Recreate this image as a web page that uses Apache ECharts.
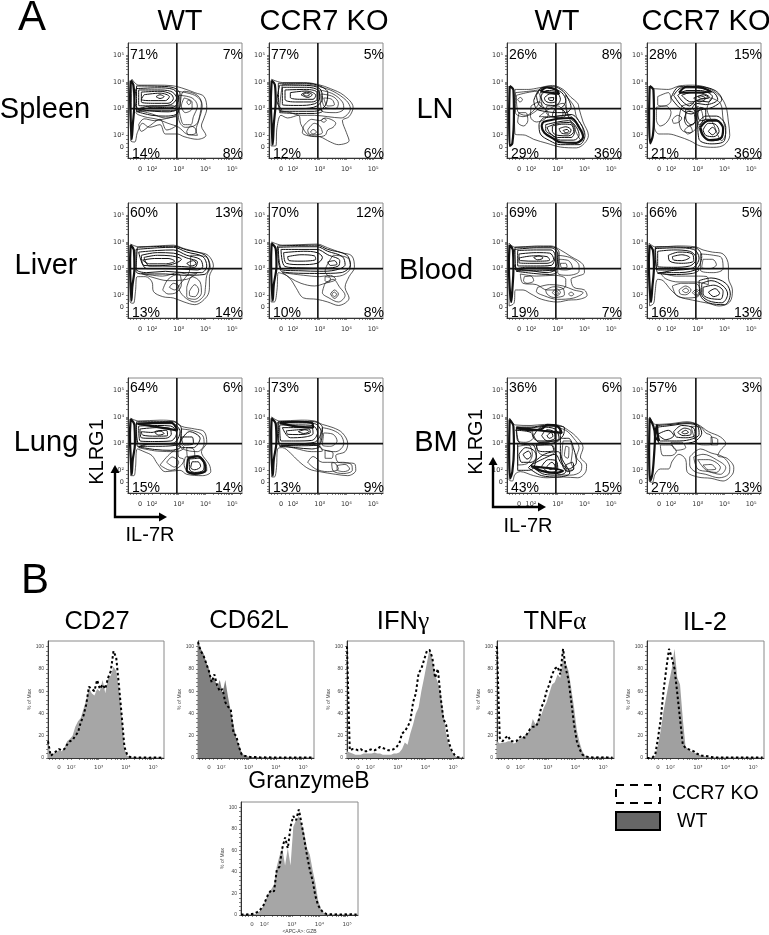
<!DOCTYPE html>
<html><head><meta charset="utf-8">
<style>html,body{margin:0;padding:0;background:#fff}#c{width:769px;height:935px}</style>
<script src="https://cdn.jsdelivr.net/npm/echarts@6/dist/echarts.min.js"></script>
</head><body><div id="c"></div>
<script>
// ---------- tick labels ----------
const flowTicks=[1.55,2,3,4,5];
const flowTickLabels=['0','10²','10³','10⁴','10⁵'];
const flowMinorTicks=[1.2,1.3,1.4,1.55,1.7,1.85,2,2.3,2.48,2.6,2.7,2.78,2.85,2.9,2.95,3,3.3,3.48,3.6,3.7,3.78,3.85,3.9,3.95,4,4.3,4.48,4.6,4.7,4.78,4.85,4.9,4.95,5,5.3];
const pctTicks=[0,20,40,60,80,100];
const pctMinorTicks=[0,4,8,12,16,20,24,28,32,36,40,44,48,52,56,60,64,68,72,76,80,84,88,92,96,100];
const quadrantX=2.93, quadrantY=3;

// ---------- quadrant percentages (UL, UR, LL, LR) ----------
const spleenWtPct=['71%','7%','14%','8%'], spleenKoPct=['77%','5%','12%','6%'];
const lnWtPct=['26%','8%','29%','36%'], lnKoPct=['28%','15%','21%','36%'];
const liverWtPct=['60%','13%','13%','14%'], liverKoPct=['70%','12%','10%','8%'];
const bloodWtPct=['69%','5%','19%','7%'], bloodKoPct=['66%','5%','16%','13%'];
const lungWtPct=['64%','6%','15%','14%'], lungKoPct=['73%','5%','13%','9%'];
const bmWtPct=['36%','6%','43%','15%'], bmKoPct=['57%','3%','27%','13%'];

// ---------- contour rings: flat x,y pairs in log10 units ----------
const spleenWtThin=[
[1.25,4.1,1.5,3.88,2.2,3.88,2.75,3.86,3.1,3.78,3.6,3.6,3.95,3.45,4.05,3,3.95,2.65,3.85,2.35,4.02,2,3.7,1.85,3.2,1.95,2.95,2.05,2.5,2.05,2.3,2.4,1.9,2.3,1.65,2.45,1.45,2.1,1.35,1.75,1.2,1.8],
[1.45,2.95,2,2.8,2.5,2.65,2.95,2.8,3.2,3.65,3.7,3.5,3.88,3.1,3.75,2.55,3.65,2.2,3.7,2,3.3,2.05,3,2.3,2.6,2.45,2.2,2.6,1.7,2.7,1.4,2.85],
[3,3.5,3.5,3.4,3.7,3.1,3.55,2.7,3.45,2.4,3.2,2.4,3.05,2.75,3,3.1],
[3.3,2.15,3.45,2.35,3.65,2.2,3.6,2.05,3.35,2.02],
[3.3,3.25,3.38,3.33,3.45,3.22,3.37,3.15],
[1.5,2.4,1.7,2.62,2.1,2.55,2.4,2.6,2.9,2.7,2.95,2.45,2.55,2.2,2.3,2.6,1.9,2.35,1.6,2.15],
[3.2,3.4,3.5,3.25,3.5,3,3.25,2.85,3.1,3.1],
[2.95,3.65,3.6,3.5,3.85,3.2,3.8,2.8,3.65,2.4,3.25,2.3,3,2.6]];
const spleenWtDense=[
[1.4,3.75,2.2,3.78,2.8,3.72,3,3.4,2.8,3.05,2.2,3,1.5,3,1.35,3.3],
[1.5,3.7,2.2,3.7,2.7,3.65,2.92,3.4,2.7,3.15,2.2,3.1,1.5,3.12],
[1.6,3.62,2.3,3.65,2.7,3.55,2.8,3.38,2.6,3.2,2.1,3.2,1.6,3.25],
[1.7,3.52,2.3,3.58,2.65,3.45,2.5,3.3,2,3.3,1.6,3.35],
[2.15,3.45,2.3,3.52,2.45,3.45,2.3,3.38],
[1.45,2.98,2.1,2.9,2.6,2.88,2.95,2.98,2.8,3.1,2,3.1],
[1.42,3.85,2.2,3.84,2.75,3.8,3.05,3.55,3.05,3.1,2.7,2.92,2,2.92,1.42,2.9],
[1.45,2.88,2,2.75,2.5,2.72,2.9,2.78,3,2.95,2,3.05]];
const spleenWtHeavy=[[1.2,4.05,1.3,3.9,1.34,3.2,1.28,2.4,1.24,1.85,1.2,2.6,1.18,3.4]];

const spleenKoThin=[
[1.2,4.1,1.6,3.98,2.4,3.98,2.95,3.9,3.4,3.75,3.9,3.5,4.25,3.05,4.1,2.7,3.85,2.55,4,2.1,4.1,1.8,3.7,1.65,3.4,1.75,3,1.95,2.6,2,2.3,2.4,2.2,2.75,1.8,2.65,1.55,2.75,1.4,2.3,1.35,1.6,1.18,1.6],
[1.6,3.9,2.5,3.92,3,3.82,3.5,3.65,4,3.3,4.15,3,3.8,2.65,3.3,2.7,2.8,2.75,2.3,2.75,1.9,2.85,1.5,3],
[2.4,2.35,2.7,2.6,3,2.55,3.2,2.65,3.6,2.45,3.5,2.3,3.3,2.2,3.2,2,2.9,1.95,2.5,2,2.35,2.1],
[2.55,2.2,2.8,2.45,3,2.35,3.1,2.1,2.8,2.02,2.6,2.05],
[2.65,2.12,2.75,2.22,2.88,2.12,2.75,2.05],
[3.05,2.55,3.15,2.63,3.25,2.57,3.15,2.49],
[3,3.7,3.5,3.55,3.85,3.25,3.9,3,3.6,2.85,3.1,2.9],
[3.05,3.55,3.5,3.45,3.7,3.2,3.6,3,3.2,3.05],
[3.15,3.4,3.45,3.35,3.55,3.15,3.3,3.1]];
const spleenKoDense=[
[1.5,3.88,2.5,3.87,3,3.75,3.1,3.4,2.9,3.1,2.3,3,1.6,3,1.4,3.3],
[1.6,3.8,2.5,3.8,2.95,3.68,3,3.4,2.8,3.18,2.2,3.12,1.6,3.15],
[1.7,3.7,2.5,3.72,2.9,3.6,2.9,3.35,2.7,3.25,2.1,3.25,1.7,3.35],
[1.9,3.6,2.5,3.66,2.85,3.5,2.75,3.35,2.3,3.35,1.9,3.42],
[2.3,3.52,2.5,3.62,2.72,3.52,2.55,3.42],
[2.38,3.53,2.5,3.58,2.62,3.52,2.5,3.47],
[1.45,3.95,2.5,3.95,3,3.85,3.3,3.6,3.2,3.1,2.8,2.9,2.2,2.9,1.5,2.9],
[1.5,2.85,2.2,2.82,2.8,2.82,3.1,2.9,2.9,3,2.2,3,1.6,3]];
const spleenKoHeavy=[[1.2,4.05,1.32,3.9,1.35,3.3,1.28,2.4,1.24,1.65,1.2,2.4,1.17,3.3]];

const lnWtThin=[
[1.4,3.72,1.9,3.72,2.3,3.78,2.8,3.87,3.2,3.72,3.5,3.42,3.75,3.2,3.8,3,3.95,2.5,4.15,2,4,1.7,3.7,1.53,3.1,1.56,2.6,1.7,2.1,1.85,1.8,2,1.4,2.05,1.38,3],
[1.45,3.5,1.85,3.6,2.2,3.65,2.35,3.4,2.2,3.05,1.8,2.75,1.5,2.9],
[1.55,2.85,1.8,2.85,1.88,2.55,1.72,2.35,1.5,2.5],
[1.5,3.35,1.6,3.42,1.68,3.33,1.58,3.25],
[2,3.1,2.3,3.25,2.5,3,2.65,2.8,2.5,2.6,2.2,2.5,1.98,2.7],
[2.6,3.1,3,3.1,3.2,2.85,3.1,2.65,2.75,2.7,2.55,2.9],
[3.3,3.5,3.6,3.1,3.7,2.7,3.95,2.2,3.9,1.8,3.6,2.3,3.35,2.9],
[2.3,2.7,2.7,3,3.2,3.2,3.4,2.7,3.75,2.4,3.85,2.2,3.4,2.75,2.7,2.7],
[1.42,3.6,2,3.66,2.3,3.7,2.4,3.2,2.1,2.85,1.7,2.7,1.42,2.85]];
const lnWtDense=[
[2.2,3.5,2.45,3.8,2.8,3.75,3.15,3.6,3.3,3.3,3.05,3,2.6,3,2.3,3.15],
[2.35,3.45,2.6,3.68,2.95,3.62,3.1,3.35,2.9,3.12,2.55,3.15],
[2.5,3.4,2.7,3.55,2.95,3.5,2.95,3.3,2.75,3.22,2.55,3.28],
[2.65,3.4,2.85,3.42,2.82,3.3,2.68,3.32],
[2.55,2.4,3,2.5,3.4,2.55,3.7,2.3,3.8,2,3.6,1.82,3.1,1.82,2.8,2,2.55,2.2],
[2.8,2.35,3.2,2.42,3.5,2.4,3.6,2.15,3.4,1.98,3,2,2.8,2.15],
[3.05,2.25,3.3,2.32,3.5,2.2,3.4,2.05,3.15,2.08],
[3.2,2.18,3.35,2.22,3.42,2.14,3.3,2.1],
[2.1,3.3,2.35,3.75,2.85,3.82,3.2,3.65,3.4,3.35,3.5,3.05,3.3,2.85,3,2.85,2.5,2.9,2.2,3],
[2.45,2.65,3,2.72,3.5,2.78,3.85,2.45,4.02,2,3.8,1.65,3.1,1.65,2.7,1.8,2.35,2.05,2.3,2.4],
[2.6,2.3,3,2.45,3.45,2.48,3.65,2.25,3.5,1.92,3,1.92,2.7,2.1],
[2.9,3,3.2,2.95,3.3,2.75,3.05,2.65,2.8,2.75]];
const lnWtHeavy=[
[1.2,3.85,1.34,3.7,1.36,2.8,1.3,1.7,1.2,1.6,1.18,2.8],
[2.45,2.5,3,2.62,3.5,2.65,3.8,2.3,3.95,1.95,3.7,1.72,3.1,1.74,2.8,1.9,2.5,2.1,2.4,2.35],
[2.35,3.65,2.6,3.8,2.95,3.7,3.05,3.55]];

const lnKoThin=[
[1.35,3.75,1.9,3.72,2.3,3.85,2.8,3.88,3.3,3.8,3.8,3.5,4.05,3.1,4.15,2.5,4.2,2,4,1.65,3.6,1.55,3.1,1.6,2.7,1.8,2.3,1.95,1.9,2.05,1.55,2.05,1.38,2.3],
[1.45,3.05,1.8,3.1,2,2.85,1.85,2.5,1.6,2.35,1.45,2.6],
[2.05,2.6,2.25,2.75,2.4,2.65,2.3,2.5,2.1,2.45],
[1.5,3.45,1.9,3.6,2,3.3,1.75,3.1,1.5,3.15],
[2.4,3.1,2.8,3.2,3,2.85,3,2.4,2.7,2.1,2.4,2.2,2.3,2.6],
[2.5,2.2,2.7,2.35,2.8,2.15,2.62,2.05],
[3,3.1,3.15,2.9,3.2,2.55,3.05,2.4,2.95,2.8],
[3.5,3.4,3.85,3.2,3.95,2.6,4.05,2.1,3.9,1.8,3.6,2.4,3.35,3]];
const lnKoDense=[
[2.1,3.5,2.4,3.78,3,3.78,3.6,3.6,3.75,3.35,3.3,3.15,2.95,3.2,2.7,2.95,2.4,3.1],
[2.25,3.5,2.6,3.68,3.1,3.68,3.55,3.45,3.4,3.25,2.95,3.3,2.7,3.1,2.45,3.25],
[2.4,3.5,2.75,3.6,3.15,3.58,3.45,3.42,3.1,3.35,2.75,3.25],
[3,3.45,3.2,3.52,3.4,3.42,3.15,3.38],
[3.05,2.3,3.3,2.6,3.65,2.6,3.95,2.25,3.9,1.9,3.5,1.8,3.2,1.95],
[3.2,2.2,3.4,2.45,3.65,2.42,3.8,2.15,3.6,1.95,3.3,2],
[3.4,2.15,3.55,2.3,3.68,2.15,3.55,2.02],
[2.55,3,2.8,3,2.95,2.6,2.75,2.4,2.55,2.65],
[2,3.4,2.3,3.82,3,3.83,3.65,3.68,3.9,3.35,3.55,3.05,3.1,2.95,2.75,2.8,2.35,3],
[3,2.45,3.3,2.72,3.7,2.72,4.05,2.3,4,1.8,3.5,1.68,3.05,1.85],
[2.6,2.9,2.85,2.85,2.9,2.5,2.65,2.35,2.5,2.6],
[3.1,3.05,3.3,2.95,3.3,2.6,3.1,2.55,3,2.8],
[2.85,3.4,3.1,3.48,3.3,3.38,3.05,3.25]];
const lnKoHeavy=[
[1.2,3.85,1.34,3.7,1.36,2.8,1.32,2,1.22,1.7,1.18,2.8],
[3.1,2.3,3.4,2.55,3.7,2.55,3.95,2.25,3.85,1.88,3.45,1.82,3.2,2],
[2.3,3.6,2.6,3.82,3.1,3.8,3.5,3.62]];

const liverWtThin=[
[1.2,3.92,1.5,3.82,2.2,3.85,2.8,3.88,3.2,3.75,3.7,3.62,4.1,3.5,4.3,3.1,4.15,2.7,4.15,2.3,4.05,1.95,3.6,1.65,3.2,1.75,2.8,1.9,2.4,1.95,2.05,2.15,2,2.5,1.75,2.7,1.45,2.7,1.38,2.15,1.3,1.7,1.18,1.75],
[3.45,3.5,4,3.45,4.18,3.05,4.05,2.75,4,2.3,3.95,2,3.6,1.75,3.2,1.95,3,2.3,3.2,2.6,3.4,2.9],
[3.3,2.3,3.5,2.7,3.8,2.5,3.85,2.1,3.6,1.85,3.3,1.95],
[3.4,2.15,3.6,2.4,3.75,2.2,3.6,1.95,3.4,2],
[2.4,2.2,2.6,2.6,3,2.8,3.1,2.4,2.9,2.1,2.6,2.05],
[2.65,2.3,2.8,2.45,3,2.35,2.85,2.2],
[1.6,2.82,2.4,2.72,3,2.85,3.4,2.78,3.7,2.85,3.3,2.6,2.6,2.55,2,2.68]];
const liverWtDense=[
[1.4,3.72,2.2,3.78,2.8,3.8,3.3,3.62,3.9,3.45,4.05,3.1,3.85,2.85,3.2,2.85,2.5,2.9,1.8,2.85,1.4,3],
[1.5,3.62,2.2,3.68,2.8,3.7,3.3,3.5,3.8,3.35,3.9,3.08,3.7,2.95,3.2,2.98,2.5,3,1.8,3],
[1.6,3.5,2.2,3.6,2.8,3.58,3.3,3.4,3.7,3.25,3.6,3.05,3.1,3.08,2.4,3.1,1.7,3.12],
[1.65,3.32,2.1,3.38,2.6,3.38,2.85,3.28,2.5,3.18,1.9,3.18],
[3.3,3.2,3.55,3.3,3.65,3.18,3.45,3.1],
[1.45,3.8,2.8,3.84,3.3,3.7,4,3.5,4.15,3.1,3.95,2.78,3.2,2.75,2.5,2.8,1.7,2.8,1.4,2.9],
[1.7,3.42,2.2,3.5,2.7,3.48,3.1,3.35,2.7,3.15,1.9,3.1]];
const liverWtHeavy=[[1.2,3.88,1.32,3.7,1.34,3,1.26,2.3,1.23,1.8,1.19,2.6,1.18,3.3]];

const liverKoThin=[
[1.2,4,1.6,3.88,2.3,3.9,2.9,3.92,3.3,3.78,3.8,3.6,4.2,3.48,4.3,3.05,4.1,2.7,3.95,2.3,4.1,1.9,3.7,1.62,3.3,1.75,2.9,1.85,2.4,1.9,2.1,2.3,1.95,2.55,1.75,2.75,1.45,2.85,1.4,2.2,1.3,1.75,1.18,1.75],
[3.5,3.5,4.05,3.4,4.15,3.05,3.85,2.75,3.4,2.7,3.2,2.9],
[3.2,2.45,3.5,2.6,3.75,2.3,3.95,2,3.7,1.75,3.35,1.9,3.1,2.1],
[3.4,2.05,3.55,2.2,3.7,2.05,3.55,1.88],
[3.45,2.05,3.55,2.12,3.63,2.03,3.55,1.95],
[1.6,2.85,2.4,2.75,3,2.7,3.4,2.75,3.6,2.6,3.2,2.45,2.8,2.35,2.3,2.45,1.9,2.65],
[3.2,2.7,3.4,2.65,3.35,2.5,3.2,2.55]];
const liverKoDense=[
[1.45,3.8,2.3,3.82,2.9,3.82,3.3,3.65,3.85,3.45,3.95,3.15,3.6,2.95,3,2.9,2.3,2.92,1.6,2.95],
[1.55,3.72,2.3,3.72,2.9,3.72,3.3,3.52,3.75,3.3,3.7,3.1,3.2,3.02,2.3,3.03,1.7,3.08],
[1.65,3.6,2.4,3.65,2.9,3.6,3.1,3.42,2.9,3.2,2.3,3.15,1.75,3.2],
[1.8,3.45,2.3,3.52,2.8,3.48,2.85,3.35,2.3,3.28,1.85,3.3],
[3.3,3.25,3.55,3.3,3.65,3.17,3.4,3.12],
[1.42,3.85,2.9,3.88,3.3,3.72,4,3.52,4.15,3.15,3.8,2.85,3,2.82,1.6,2.88]];
const liverKoHeavy=[[1.2,3.95,1.35,3.75,1.38,3.1,1.28,2.4,1.24,1.8,1.19,2.6,1.18,3.4]];

const bloodWtThin=[
[1.18,3.95,1.4,3.8,2.2,3.85,2.75,3.85,3.1,3.7,3.5,3.45,3.95,3.15,4,2.85,3.7,2.7,3.5,2.6,3.6,2.3,4,2.2,4.1,2,3.8,1.85,3.4,1.82,3,1.75,2.4,1.85,2,2.05,1.7,2.2,1.42,2.2,1.36,1.7,1.18,1.6],
[3,3.5,3.5,3.4,3.8,3.1,3.8,2.9,3.4,2.75,3,2.85],
[3.05,3.35,3.4,3.3,3.55,3.05,3.3,2.95,3.05,3],
[3.1,3.2,3.3,3.2,3.35,3.05,3.15,3.03],
[1.6,2.8,2.2,2.72,2.9,2.75,3.3,2.6,3.3,2.35,3,2.2,2.6,2.2,2.2,2.4,1.7,2.45],
[1.75,2.7,2,2.72,2.1,2.55,1.85,2.45,1.72,2.55],
[2.25,2.3,2.7,2.4,3.2,2.35,3.6,2.2,3.95,2.1,3.6,1.9,3,1.85,2.5,1.98,2.2,2.15],
[2.55,2.2,2.85,2.32,3.2,2.25,3.25,2.02,2.85,1.92,2.6,2.05],
[2.8,2.1,2.95,2.25,3.1,2.1,2.95,1.98],
[2.9,2.1,2.96,2.16,3.02,2.08,2.96,2.03],
[3.4,2.05,3.5,2.12,3.6,2.04,3.5,1.98]];
const bloodWtDense=[
[1.38,3.72,2.2,3.78,2.75,3.78,3,3.55,2.9,3.05,2.2,3,1.5,3,1.35,3.2],
[1.5,3.68,2.2,3.7,2.75,3.7,2.9,3.5,2.75,3.12,2.2,3.1,1.5,3.1],
[1.55,3.55,2.2,3.6,2.7,3.58,2.85,3.35,2.6,3.2,2,3.2,1.55,3.22],
[1.55,3.4,2.1,3.48,2.6,3.45,2.7,3.32,2.2,3.28,1.6,3.3],
[2.1,3.42,2.3,3.48,2.45,3.4,2.25,3.33],
[1.4,2.98,2,2.92,2.6,2.85,2.9,2.95,2.6,3.05,1.8,3.05],
[1.4,3.8,2.75,3.82,3.05,3.6,3,3,2.2,2.92,1.45,2.92],
[1.45,2.9,2.1,2.82,2.7,2.78,2.95,2.85,2.7,2.98,1.8,3]];
const bloodWtHeavy=[[1.2,3.88,1.32,3.7,1.34,3,1.3,2.2,1.26,1.75,1.2,2.3,1.17,3.2]];

const bloodKoThin=[
[1.18,3.95,1.45,3.8,2.2,3.85,2.9,3.82,3.2,3.7,3.55,3.62,3.95,3.55,4.15,3.1,4.15,2.65,4.3,2.2,4.2,1.75,3.8,1.6,3.4,1.7,2.8,1.82,2.3,1.95,2,2.2,1.7,2.55,1.5,2.6,1.4,2.1,1.35,1.7,1.2,1.6],
[3.1,3.55,3.6,3.5,3.9,3.4,3.95,3,3.6,2.85,3.1,2.95],
[3.2,3.35,3.55,3.35,3.7,3.15,3.45,3,3.15,3.05],
[2.05,2.35,2.4,2.45,2.9,2.45,3.1,2.2,3,1.95,2.55,1.9,2.2,2],
[2.3,2.2,2.55,2.35,2.75,2.2,2.55,2.02,2.35,2.05],
[2.42,2.18,2.56,2.27,2.66,2.17,2.55,2.1],
[2.8,2.1,2.95,2.22,3.1,2.1,2.95,1.98],
[2.88,2.1,2.96,2.16,3.04,2.08,2.96,2.03],
[1.6,2.85,2.2,2.72,2.9,2.72,3.35,2.7,3.4,2.4,2.9,2.5,2.3,2.5,1.8,2.62]];
const bloodKoDense=[
[1.4,3.75,2.2,3.78,2.85,3.72,3.05,3.4,2.8,3.02,2.1,2.95,1.5,2.95],
[1.5,3.65,2.1,3.7,2.7,3.65,2.95,3.38,2.7,3.1,2.1,3.05,1.5,3.08],
[1.9,3.5,2.3,3.62,2.8,3.55,2.85,3.3,2.4,3.2,1.95,3.28],
[2.05,3.45,2.4,3.52,2.7,3.42,2.4,3.3,2.1,3.32],
[3.15,2.45,3.5,2.55,3.95,2.35,4.12,2.05,3.9,1.72,3.4,1.8,3.15,2.05],
[3.2,2.3,3.6,2.38,3.95,2.15,3.85,1.85,3.4,1.9,3.2,2.05],
[3.4,2.12,3.65,2.25,3.82,2.07,3.6,1.95],
[1.42,3.82,2.9,3.78,3.15,3.45,2.9,2.95,2.1,2.85,1.5,2.85],
[1.5,2.82,2,2.78,2.8,2.82,3.05,2.95,2.7,3],
[3.05,2.55,3.5,2.65,4.05,2.45,4.22,2.05,4,1.65,3.4,1.72,3.1,2]];
const bloodKoHeavy=[[1.2,3.88,1.32,3.7,1.36,3.05,1.3,2.3,1.25,1.75,1.2,2.3,1.17,3.2]];

const lungWtThin=[
[1.2,3.95,1.5,3.85,2.3,3.88,2.8,3.85,3.1,3.65,3.6,3.55,3.95,3.45,4.05,3.05,3.85,2.7,4.15,2.2,4.2,1.95,3.9,1.8,3.3,1.85,3.05,2,2.5,1.95,2.2,2.25,2,2.55,1.7,2.7,1.45,2.8,1.38,2.1,1.32,1.8,1.2,1.8],
[3.1,3.55,3.55,3.48,3.9,3.3,3.95,3,3.7,2.7,3.3,2.75,3.05,2.9],
[2.3,2.2,2.65,2.6,2.95,2.8,3,2.5,3.2,2.4,3.05,2.15,2.7,2],
[2.55,2.3,2.75,2.5,3,2.3,2.85,2.12],
[3.3,2.85,3.55,2.8,3.6,2.55,3.35,2.45],
[3.25,2.5,3.7,2.55,4,2.3,4.05,2,3.7,1.88,3.3,2,3.2,2.25],
[1.5,2.85,2.2,2.72,2.9,2.7,3.2,2.85,3,3,2,3]];
const lungWtDense=[
[1.4,3.75,2.2,3.75,2.75,3.75,3.05,3.45,2.8,3.02,2,2.98,1.5,3],
[1.5,3.66,2.2,3.68,2.7,3.66,2.92,3.4,2.7,3.1,2.1,3.08,1.55,3.1],
[1.55,3.55,2.2,3.6,2.65,3.58,2.72,3.35,2.5,3.2,2,3.2,1.6,3.22],
[1.6,3.45,2,3.42,2.2,3.48,2.55,3.5,2.58,3.3,2.15,3.28,1.65,3.32],
[2.1,3.42,2.3,3.47,2.45,3.38,2.25,3.32],
[3.4,2.42,3.75,2.45,3.95,2.2,3.92,2,3.6,1.92,3.4,2.05],
[3.5,2.32,3.72,2.32,3.82,2.15,3.6,2.02,3.45,2.1],
[1.42,3.82,2.8,3.82,3.1,3.55,2.95,2.95,2,2.9,1.45,2.9],
[1.5,2.88,2.1,2.78,2.7,2.75,3.05,2.85,2.8,2.98,1.9,3],
[3,2.95,3.4,3.45,3.8,3.2,3.55,2.85,3.15,2.85],
[3.1,3.25,3.5,3.25,3.55,3,3.2,2.95]];
const lungWtHeavy=[
[1.2,3.92,1.34,3.7,1.36,3,1.28,2.4,1.24,1.85,1.2,2.5,1.17,3.3],
[3.35,2.45,3.7,2.52,3.95,2.3,4,2,3.6,1.87,3.3,2],
[1.45,3.75,2.2,3.78,2.7,3.8,2.95,3.5]];

const lungKoThin=[
[1.2,4,1.5,3.85,2.3,3.88,2.8,3.85,3.1,3.72,3.5,3.6,3.85,3.4,4.05,3,3.95,2.7,3.6,2.55,3.7,2.3,4.3,2.25,4.35,2,4.05,1.8,3.6,1.85,3,1.95,2.6,2.05,2.2,2.35,1.9,2.65,1.6,2.85,1.42,2.8,1.38,2.1,1.3,1.75,1.2,1.75],
[3.1,3.6,3.5,3.5,3.8,3.3,3.9,3,3.6,2.7,3.2,2.75,3,2.9],
[3.15,3.4,3.5,3.35,3.65,3.1,3.4,2.9,3.1,2.95],
[2.55,2.3,2.75,2.52,3.1,2.3,3.5,2.3,3.7,2.05,3.3,1.95,2.85,2.05],
[3.45,2.28,3.85,2.3,4.2,2.2,4.22,2,3.9,1.88,3.5,1.98],
[3.65,2.18,3.95,2.22,4.12,2.05,3.9,1.95,3.65,2.03],
[3.2,2.75,3.5,2.65,3.45,2.45,3.2,2.45],
[1.55,2.95,2.1,2.82,2.7,2.7,3.1,2.72,3,2.9,2.2,2.98]];
const lungKoDense=[
[1.4,3.78,2.2,3.78,2.8,3.75,3.05,3.45,2.8,3.05,2.1,3,1.5,3],
[1.5,3.7,2.2,3.7,2.72,3.68,2.92,3.42,2.7,3.12,2.1,3.1,1.55,3.1],
[1.6,3.6,2.2,3.6,2.68,3.62,2.75,3.38,2.45,3.25,1.9,3.22],
[1.75,3.48,2.2,3.52,2.6,3.55,2.65,3.42,2.2,3.34,1.8,3.35],
[2.2,3.45,2.45,3.52,2.6,3.45,2.4,3.38],
[1.45,3.83,2.8,3.82,3.1,3.6,2.95,2.95,2.1,2.92,1.5,2.92],
[1.5,2.9,2.1,2.85,2.7,2.8,3,2.88,2.7,2.98]];
const lungKoHeavy=[
[1.2,3.95,1.35,3.75,1.38,3.1,1.28,2.4,1.24,1.8,1.19,2.6,1.18,3.4],
[1.5,3.78,2.2,3.82,2.7,3.78,2.75,3.6,2.1,3.65]];

const bmWtThin=[
[1.2,3.95,1.42,3.7,2,3.68,2.5,3.72,3,3.7,3.4,3.5,3.75,3.2,3.95,2.85,3.85,2.5,4.08,2.2,4.05,1.95,3.75,1.72,3.2,1.75,2.6,1.72,2.1,1.8,1.6,1.95,1.4,1.85,1.3,1.6,1.18,1.65],
[2.9,3.62,3.3,3.5,3.6,3.2,3.8,2.85,3.7,2.5,3.9,2.2,3.85,1.95,3.5,1.82,3,1.85],
[3.2,3.1,3.45,3.1,3.55,2.7,3.5,2.3,3.6,2.05,3.3,2,3.15,2.4],
[3.3,2.9,3.42,2.85,3.38,2.45,3.25,2.55],
[1.45,3.55,1.9,3.6,2.1,3.25,1.8,3.05,1.5,3.1],
[1.5,2.9,1.9,2.95,2.05,2.6,1.85,2.25,1.5,2.2],
[2.2,3,2.45,3.05,2.75,3,2.9,2.7,2.6,2.55,2.3,2.65]];
const bmWtDense=[
[1.45,3.62,2,3.62,2.5,3.68,3,3.62,3.1,3.2,2.8,3.02,2.2,2.95,1.6,3],
[2.1,3.3,2.4,3.62,2.9,3.55,3.05,3.2,2.75,3.08,2.3,3.05],
[2.4,3.3,2.6,3.52,2.85,3.45,2.9,3.22,2.6,3.1],
[2.6,3.3,2.75,3.42,2.82,3.28,2.68,3.2],
[1.55,2.6,1.8,2.85,2.1,2.75,2.2,2.5,2,2.3,1.65,2.3],
[1.7,2.6,1.9,2.72,2,2.55,1.85,2.42],
[2,2.2,2.5,2.45,2.9,2.6,3.1,2.3,3.3,1.95,3,1.82,2.5,1.85],
[2.4,2.15,2.65,2.4,2.95,2.35,3,2.05,2.7,1.92],
[2.6,2.15,2.78,2.3,2.9,2.15,2.72,2.03],
[3.3,2.2,3.55,2.3,3.6,2.05,3.35,1.95],
[1.42,3.5,2,3.42,2.1,3.2,2.3,3.1,2.9,3.1,3.2,3.3,3.25,3.6,2.9,3.66,2.4,3.64],
[1.5,3,2,3,2.2,2.6,2.1,2.1,1.9,2,1.5,2],
[2.2,2.95,2.75,2.95,2.85,2.75,2.5,2.7,2.25,2.75],
[1.9,2.1,2.5,2.6,3,2.7,3.2,2.35,3.45,1.9,3,1.75,2.4,1.8],
[3.1,3.2,3.4,3.2,3.6,2.8,3.7,2.3,3.4,2.05,3.1,2.5]];
const bmWtHeavy=[
[1.2,3.9,1.34,3.65,1.36,2.8,1.3,1.95,1.22,1.7,1.18,2.8],
[1.45,3.6,2,3.5,2.4,3.55,2.6,3.7,3,3.65,3.15,3.4],
[2,2.15,2.4,1.98,2.9,1.9,3.2,1.98]];

const bmKoThin=[
[1.2,4,1.42,3.72,2,3.75,2.6,3.82,3,3.72,3.4,3.45,3.85,3.25,4.05,3,3.85,2.75,3.75,2.55,4.1,2.45,4.35,2.1,4.3,1.85,3.95,1.6,3.5,1.7,3,1.75,2.6,1.95,2.55,2.4,2.3,2.6,2.05,2.35,1.9,2.05,1.6,2.05,1.4,1.85,1.3,1.55,1.18,1.6],
[2.75,3.65,3.1,3.62,3.3,3.4,3.5,3.3,3.55,3,3.3,2.95,3,3],
[3.5,3.25,3.75,3.15,3.75,2.95,3.5,2.95],
[2.7,2.5,3.1,2.8,3.5,2.65,3.95,2.5,4.2,2.1,4.15,1.85,3.8,1.72,3.3,1.85,2.9,1.95,2.7,2.2],
[2.85,2.5,3.2,2.6,3.7,2.4,4.05,2.1,3.85,1.85,3.4,1.95,3,2.05],
[3,2.4,3.4,2.4,3.85,2.1,3.7,1.92,3.3,2.02],
[1.6,2.95,1.95,2.95,2.2,2.7,2,2.55,1.7,2.55],
[2,3.05,2.4,3.05,2.55,2.85,2.2,2.75],
[3.2,2.2,3.5,2.22,3.68,2.05,3.4,2.02]];
const bmKoDense=[
[1.5,3.62,2,3.68,2.6,3.75,3,3.65,3.05,3.35,2.7,3.15,2.2,3.1,1.6,3.1],
[1.5,3.35,1.9,3.5,2.1,3.3,1.8,3.15],
[2.1,3.45,2.4,3.68,2.85,3.58,2.9,3.32,2.55,3.22,2.2,3.25],
[2.25,3.42,2.5,3.58,2.75,3.48,2.75,3.35,2.45,3.3],
[2.4,3.42,2.55,3.5,2.65,3.42,2.5,3.37],
[1.48,3.68,2,3.72,2.6,3.78,3,3.7,3.15,3.4,2.8,3.05,2.2,3,1.55,3.02]];
const bmKoHeavy=[
[1.2,3.95,1.34,3.65,1.4,3.3,1.36,2.5,1.3,1.85,1.22,1.6,1.18,2.8],
[1.48,3.72,1.4,3.3,1.55,3.1,1.48,3.5]];

// ---------- histogram values: one % of max reading per position on the log axis ----------
const histPositions=[1.15,1.25,1.35,1.45,1.55,1.65,1.75,1.85,1.95,2.05,2.15,2.25,2.35,2.45,2.55,2.65,2.75,2.85,2.95,3.05,3.15,3.25,3.35,3.45,3.55,3.65,3.75,3.85,3.95,4.05,4.15,4.25,4.35,4.45,4.55,4.65,4.75,4.85,4.95,5.05,5.15,5.25,5.35];
const cd27Wt=[14,3,4,5,7,6,9,15,17,20,28,33,36,44,52,63,58,56,62,60,70,58,72,74,82,78,62,38,8,2,1,.7,.5,.4,.3,.3,.3,.3,.3,.3,.3,.3,.3];
const cd27Ko=[15,2,4,6,8,7,8,12,15,16,20,23,32,38,48,64,62,60,70,62,66,62,72,78,96,90,65,38,10,3,1,.7,.5,.4,.4,.5,.4,.3,.4,.5,.4,.3,.4];
const cd62lWt=[105,98,94,86,80,70,72,64,70,58,70,55,42,30,18,12,5,2,1.5,1,1,.8,.6,.5,.5,.4,.4,.3,.3,.3,.3,.3,.3,.3,.3,.3,.3,.3,.3,.3,.3,.3,.3];
const cd62lKo=[104,96,92,85,78,68,75,65,60,62,50,46,44,22,20,10,3,2,1.5,1,1,.8,.6,.5,.6,.5,.6,.5,.4,.5,.4,.5,.4,.5,.4,.5,.4,.5,.4,.5,.4,.5,.4];
const ifngWt=[6,5,4,3,3,3,4,4,4,4,5,4,4,3,3,3,3,4,4,5,8,14,12,22,30,40,45,60,72,85,98,88,74,68,58,40,22,12,6,2,.8,.4,.2];
const ifngKo=[100,7,8,8,7,8,6,6,7,8,7,8,10,9,8,7,7,8,10,13,22,24,28,33,50,58,76,80,88,96,97,90,72,80,55,35,30,14,7,3,1,.5,.2];
const tnfaWt=[15,13,14,14,15,15,13,14,17,18,20,22,25,35,30,35,38,45,50,58,66,68,75,72,90,85,78,62,45,25,14,6,2,1,.7,.5,.5,.4,.6,.5,.6,.4,.3];
const tnfaKo=[100,18,15,18,20,15,15,15,18,20,18,22,26,28,28,32,45,50,60,66,75,80,82,75,98,80,70,50,30,15,8,3,1.5,1,.7,.5,.5,.6,.5,.7,.5,.4,.3];
const il2Wt=[0,0,.5,2,12,25,42,55,68,80,98,72,66,35,10,8,6,5,4,3,2,1.5,1,.7,.5,.4,.3,.3,.3,.3,.3,.3,.3,.3,.3,.3,.3,.3,.3,.3,.3,.3,.3];
const il2Ko=[0,0,.5,3,18,35,60,80,98,90,80,58,35,12,9,8,7,6,4,3,2,2,1.5,1,.7,.5,.5,.5,.4,.5,.4,.5,.4,.5,.4,.5,.4,.5,.4,.5,.4,.5,.4];
const gzbWt=[0,0,.2,.5,.8,1,2,4,8,14,20,24,28,45,55,62,46,62,46,82,88,92,85,76,62,56,42,30,14,6,2,1,.5,.4,.3,.3,.3,.3,.3,.3,.3,.2,.2];
const gzbKo=[.5,.5,.4,.8,1,1.5,3,5,8,14,20,23,22,42,45,62,72,62,82,92,88,98,85,70,55,42,32,18,9,5,2,1,.8,.6,.5,.8,.5,.4,.6,.4,.8,.4,.5];

// ---------- layout ----------
const FONT='"Liberation Sans",Arial,sans-serif';
const colLefts=[128,269,507,647], rowTops=[43,203,378];
const PW=114, PH=115;
const contourPanels=[
 [0,0,spleenWtThin,spleenWtDense,spleenWtHeavy,spleenWtPct],[1,0,spleenKoThin,spleenKoDense,spleenKoHeavy,spleenKoPct],
 [2,0,lnWtThin,lnWtDense,lnWtHeavy,lnWtPct],[3,0,lnKoThin,lnKoDense,lnKoHeavy,lnKoPct],
 [0,1,liverWtThin,liverWtDense,liverWtHeavy,liverWtPct],[1,1,liverKoThin,liverKoDense,liverKoHeavy,liverKoPct],
 [2,1,bloodWtThin,bloodWtDense,bloodWtHeavy,bloodWtPct],[3,1,bloodKoThin,bloodKoDense,bloodKoHeavy,bloodKoPct],
 [0,2,lungWtThin,lungWtDense,lungWtHeavy,lungWtPct],[1,2,lungKoThin,lungKoDense,lungKoHeavy,lungKoPct],
 [2,2,bmWtThin,bmWtDense,bmWtHeavy,bmWtPct],[3,2,bmKoThin,bmKoDense,bmKoHeavy,bmKoPct]];
const histPanels=[
 [48,641,116,117,cd27Wt,cd27Ko,'#a6a6a6',''],[198,641,116,117,cd62lWt,cd62lKo,'#808080',''],
 [347,641,117,117,ifngWt,ifngKo,'#a6a6a6',''],[497,641,117,117,tnfaWt,tnfaKo,'#a6a6a6',''],
 [647,641,117,117,il2Wt,il2Ko,'#a0a0a0',''],[241,802,117,117,gzbWt,gzbKo,'#a6a6a6','<APC-A>: GZB']];

const grids=[],xAxes=[],yAxes=[],series=[],graphic=[];
const txt=(text,x,y,size,extra)=>graphic.push(Object.assign({type:'text',silent:true,z:50,x,y,style:Object.assign({text,font:size+'px '+FONT,fill:'#000',align:'center',verticalAlign:'middle'},extra&&extra.style)},extra&&extra.el));

function pairs(f){const out=[];for(let i=0;i<f.length;i+=2)out.push([f[i],f[i+1]]);out.push([f[0],f[1]]);return out;}
function rings(list,gi,width,z){
  list.forEach(r=>series.push({type:'line',xAxisIndex:gi,yAxisIndex:gi,data:pairs(r),showSymbol:false,silent:true,smooth:0.35,
    lineStyle:{color:'#111',width},z,clip:true,animation:false}));
}
contourPanels.forEach(p=>{
  const gi=grids.length,l=colLefts[p[0]],t=rowTops[p[1]];
  grids.push({left:l,top:t,width:PW,height:PH,show:true,borderColor:'#8a8a8a',borderWidth:1,backgroundColor:'#fff'});
  const fmt=v=>{const i=flowTicks.indexOf(v);return i<0?'':flowTickLabels[i];};
  xAxes.push({type:'value',gridIndex:gi,min:1.1,max:5.37,splitLine:{show:false},
    axisLine:{show:true,onZero:false,lineStyle:{color:'#333',width:1}},
    axisTick:{show:true,customValues:flowMinorTicks,length:2,lineStyle:{color:'#333',width:.6}},
    axisLabel:{customValues:flowTicks,formatter:fmt,fontSize:6.5,color:'#333',margin:8,fontFamily:'"DejaVu Sans",sans-serif'}});
  yAxes.push({type:'value',gridIndex:gi,min:1.15,max:5.46,splitLine:{show:false},
    axisLine:{show:true,onZero:false,lineStyle:{color:'#333',width:1}},
    axisTick:{show:true,customValues:flowMinorTicks,length:2,lineStyle:{color:'#333',width:.6}},
    axisLabel:{customValues:flowTicks,formatter:fmt,fontSize:6.5,color:'#333',margin:4,fontFamily:'"DejaVu Sans",sans-serif'}});
  rings(p[2],gi,.7,3); rings(p[3],gi,1,4); rings(p[4],gi,2.2,5);
  series.push({type:'line',xAxisIndex:gi,yAxisIndex:gi,data:[[quadrantX,1.15],[quadrantX,5.46]],showSymbol:false,silent:true,lineStyle:{color:'#111',width:1.6},z:6,animation:false});
  series.push({type:'line',xAxisIndex:gi,yAxisIndex:gi,data:[[1.17,quadrantY],[5.37,quadrantY]],showSymbol:false,silent:true,lineStyle:{color:'#111',width:1.6},z:6,animation:false});
  const pct=p[5],tY=t+(p[1]===0?12:10.5),bY=t+(p[1]===0?111:110);
  txt(pct[0],l+2,tY,14,{style:{align:'left'}}); txt(pct[1],l+PW+1,tY,14,{style:{align:'right'}});
  txt(pct[2],l+4,bY,14,{style:{align:'left'}}); txt(pct[3],l+PW+1,bY,14,{style:{align:'right'}});
});
histPanels.forEach(p=>{
  const gi=grids.length;
  grids.push({left:p[0],top:p[1],width:p[2],height:p[3],show:true,borderColor:'#8a8a8a',borderWidth:1,backgroundColor:'#fff'});
  const xf=v=>{const i=flowTicks.indexOf(v);return i<0?'':flowTickLabels[i];};
  xAxes.push({type:'value',gridIndex:gi,min:1.15,max:5.4,splitLine:{show:false},
    name:p[7],nameLocation:'middle',nameGap:14,nameTextStyle:{fontSize:5,color:'#444',fontFamily:FONT},
    axisLine:{show:true,onZero:false,lineStyle:{color:'#333',width:1}},
    axisTick:{show:true,customValues:flowMinorTicks,length:2,lineStyle:{color:'#333',width:.6}},
    axisLabel:{customValues:flowTicks,formatter:xf,fontSize:5.5,color:'#444',margin:7,fontFamily:'"DejaVu Sans",sans-serif'}});
  yAxes.push({type:'value',gridIndex:gi,min:0,max:105,splitLine:{show:false},
    name:'% of Max',nameLocation:'middle',nameGap:16,nameTextStyle:{fontSize:5,color:'#444',fontFamily:FONT},
    axisLine:{show:true,onZero:false,lineStyle:{color:'#333',width:1}},
    axisTick:{show:true,customValues:pctMinorTicks,length:2,lineStyle:{color:'#333',width:.6}},
    axisLabel:{customValues:pctTicks,fontSize:5,color:'#444',margin:4,fontFamily:FONT}});
  series.push({type:'line',xAxisIndex:gi,yAxisIndex:gi,data:histPositions.map((x,i)=>[x,p[4][i]]),showSymbol:false,silent:true,
    lineStyle:{width:0},areaStyle:{color:p[6],opacity:1},z:3,animation:false});
  series.push({type:'line',xAxisIndex:gi,yAxisIndex:gi,data:histPositions.map((x,i)=>[x,p[5][i]]),showSymbol:false,silent:true,
    lineStyle:{color:'#000',width:2,type:[2.5,2.5]},z:4,animation:false});
});

// ---------- text ----------
[[180,22,'WT'],[324,22,'CCR7 KO'],[557,22,'WT'],[706,22,'CCR7 KO']].forEach(a=>txt(a[2],a[0],a[1],29));
txt('A',32,18,42); txt('B',35,581,42);
[['Spleen',45,110],['LN',435,110],['Liver',46,266],['Blood',436,271],['Lung',46,443],['BM',436,443]].forEach(a=>txt(a[0],a[1],a[2],29));
[['CD27',97,622],['CD62L',249,621],['TNF{g|α}',555,622],['IFN{g|γ}',403,622],['IL-2',705,623],['GranzymeB',309,782]].forEach(a=>txt(a[0],a[1],a[2],a[0]==='GranzymeB'?23:25.5,
  {style:{rich:{g:{font:'25.5px "Liberation Serif",serif',fill:'#000'}}}}));
txt('KLRG1',97,452,20,{el:{rotation:Math.PI/2}});
txt('KLRG1',476,442,20,{el:{rotation:Math.PI/2}});
txt('IL-7R',150,535,20); txt('IL-7R',528,526,20);
function arrows(x,y,top,right){
  const st={stroke:'#000',lineWidth:2.4,fill:'none'};
  graphic.push({type:'polyline',silent:true,z:50,shape:{points:[[x,top+6],[x,y],[right-6,y]]},style:st});
  graphic.push({type:'polygon',silent:true,z:50,shape:{points:[[x-4.5,top+8],[x,top],[x+4.5,top+8]]},style:{fill:'#000'}});
  graphic.push({type:'polygon',silent:true,z:50,shape:{points:[[right-8,y-4.5],[right,y],[right-8,y+4.5]]},style:{fill:'#000'}});
}
arrows(115,517,465,167); arrows(493,507,457,546);

// ---------- legend ----------
graphic.push({type:'rect',silent:true,z:50,shape:{x:616,y:785,width:44,height:18},style:{fill:'#fff',stroke:'#000',lineWidth:2,lineDash:[8,6]}});
graphic.push({type:'rect',silent:true,z:50,shape:{x:616,y:812,width:44,height:18},style:{fill:'#666',stroke:'#000',lineWidth:2}});
txt('CCR7 KO',672,794,19.5,{style:{align:'left'}});
txt('WT',677,822,19.5,{style:{align:'left'}});

const chart=echarts.init(document.getElementById('c'),null,{renderer:'canvas'});
chart.setOption({animation:false,backgroundColor:'#fff',grid:grids,xAxis:xAxes,yAxis:yAxes,series,graphic:{elements:graphic},tooltip:{show:false},legend:{show:false}});
</script></body></html>
